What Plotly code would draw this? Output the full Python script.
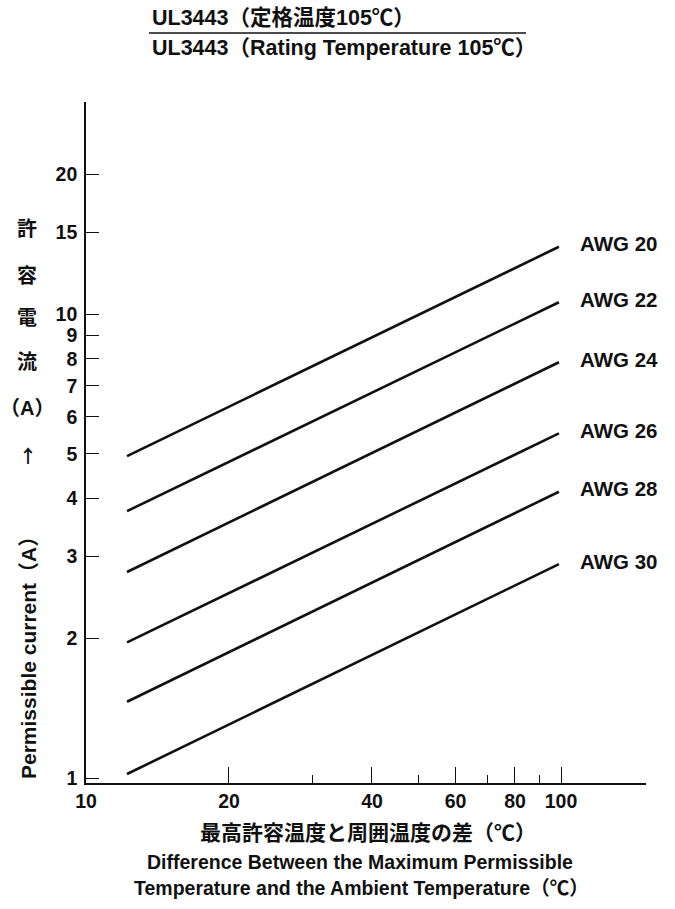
import math
import plotly.graph_objects as go

# Allowable current vs. temperature difference, UL3443 wire (rated 105 deg C)
awg_labels = ["AWG 20", "AWG 22", "AWG 24", "AWG 26", "AWG 28", "AWG 30"]
delta_t = [12.2, 99.0]                       # temperature difference (deg C)
current_start = [4.94, 3.76, 2.78, 1.96, 1.46, 1.02]   # A at 12.2 deg C
current_end = [13.96, 10.6, 7.87, 5.53, 4.14, 2.89]    # A at 99 deg C

y_tick_vals = [1, 2, 3, 4, 5, 6, 7, 8, 9, 10, 15, 20]
x_tick_vals = [10, 20, 40, 60, 80, 100]
x_minor_vals = [30, 50, 70, 90]

W, H = 675, 909
L, R, T, B = 86, 29, 102, 126
PW, PH = W - L - R, H - T - B

FONT = "Liberation Sans, Arial, Noto Sans CJK JP"
CJK = "Noto Sans CJK JP"
BLACK = "#111111"


def px(x):
    return (x - L) / PW


def py(y):
    return (H - B - y) / PH


fig = go.Figure()
for name, c0, c1 in zip(awg_labels, current_start, current_end):
    fig.add_trace(go.Scatter(
        x=delta_t, y=[c0, c1], mode="lines", name=name,
        line=dict(color=BLACK, width=2.6), showlegend=False, hoverinfo="skip",
    ))

annotations = []
for name, c1 in zip(awg_labels, current_end):
    annotations.append(dict(
        x=math.log10(delta_t[-1]), y=math.log10(c1), xref="x", yref="y",
        text=name, showarrow=False, xanchor="left", yanchor="middle",
        xshift=19, yshift=3,
        font=dict(family=FONT, size=20.5, color=BLACK, weight="bold"),
    ))

# Title block (Japanese / English) with a rule between the two lines
annotations.append(dict(
    x=px(150), y=py(18), xref="paper", yref="paper", showarrow=False,
    text="UL3443（定格温度105℃）", xanchor="left", yanchor="middle",
    font=dict(family=FONT, size=21.5, color=BLACK, weight="bold"),
))
annotations.append(dict(
    x=px(150), y=py(48), xref="paper", yref="paper", showarrow=False,
    text="UL3443（Rating Temperature 105℃）", xanchor="left", yanchor="middle",
    font=dict(family=FONT, size=21.5, color=BLACK, weight="bold"),
))

# Vertical Japanese y-axis caption
for ch, yy in zip(["許", "容", "電", "流", "（A）"],
                  [229, 276, 318, 362, 408]):
    annotations.append(dict(
        x=px(27), y=py(yy), xref="paper", yref="paper", showarrow=False,
        text=ch, xanchor="center", yanchor="middle",
        font=dict(family=FONT, size=20, color=BLACK, weight="bold"),
    ))
annotations.append(dict(
    x=px(28), y=py(455), xref="paper", yref="paper", showarrow=False,
    text="↑", xanchor="center", yanchor="middle",
    font=dict(family=CJK, size=18, color=BLACK, weight="bold"),
))

annotations.append(dict(
    x=px(28), y=py(653), xref="paper", yref="paper", showarrow=False,
    text="Permissible current（A）", textangle=-90,
    xanchor="center", yanchor="middle",
    font=dict(family=FONT, size=21, color=BLACK, weight="bold"),
))

# X-axis captions
for txt, yy, sz, cx in [("最高許容温度と周囲温度の差（℃）", 833, 21, 368),
                        ("Difference Between the Maximum Permissible", 862, 19.5, 360),
                        ("Temperature and the Ambient Temperature（℃）", 888, 19.5, 361)]:
    annotations.append(dict(
        x=px(cx), y=py(yy), xref="paper", yref="paper", showarrow=False,
        text=txt, xanchor="center", yanchor="middle",
        font=dict(family=FONT, size=sz, color=BLACK, weight="bold"),
    ))

fig.update_layout(
    width=W, height=H,
    margin=dict(l=L, r=R, t=T, b=B, pad=0),
    paper_bgcolor="white", plot_bgcolor="white",
    annotations=annotations,
    shapes=[dict(type="line", xref="paper", yref="paper",
                 x0=px(149), x1=px(526), y0=py(33), y1=py(33),
                 line=dict(color=BLACK, width=1.5))],
)

fig.update_xaxes(
    type="log", range=[1, 1 + 560 / 475],
    showline=True, linecolor=BLACK, linewidth=1.6, mirror=False,
    showgrid=False, zeroline=False,
    tickmode="array", tickvals=x_tick_vals, ticktext=[str(v) for v in x_tick_vals],
    ticks="inside", ticklen=16, tickwidth=1.3, tickcolor=BLACK,
    tickfont=dict(family=FONT, size=19.5, color=BLACK, weight="bold"),
    minor=dict(tickmode="array", tickvals=x_minor_vals, ticks="inside",
               ticklen=8, tickwidth=1.3, tickcolor=BLACK, showgrid=False),
)

fig.update_yaxes(
    type="log", range=[-5 / 464, -5 / 464 + PH / 464],
    showline=True, linecolor=BLACK, linewidth=1.6,
    showgrid=False, zeroline=False,
    tickmode="array", tickvals=y_tick_vals, ticktext=[str(v) for v in y_tick_vals],
    ticks="inside", ticklen=13, tickwidth=1.3, tickcolor=BLACK,
    ticklabelstandoff=3,
    tickfont=dict(family=FONT, size=19.5, color=BLACK, weight="bold"),
)

fig.write_html("out.html")
